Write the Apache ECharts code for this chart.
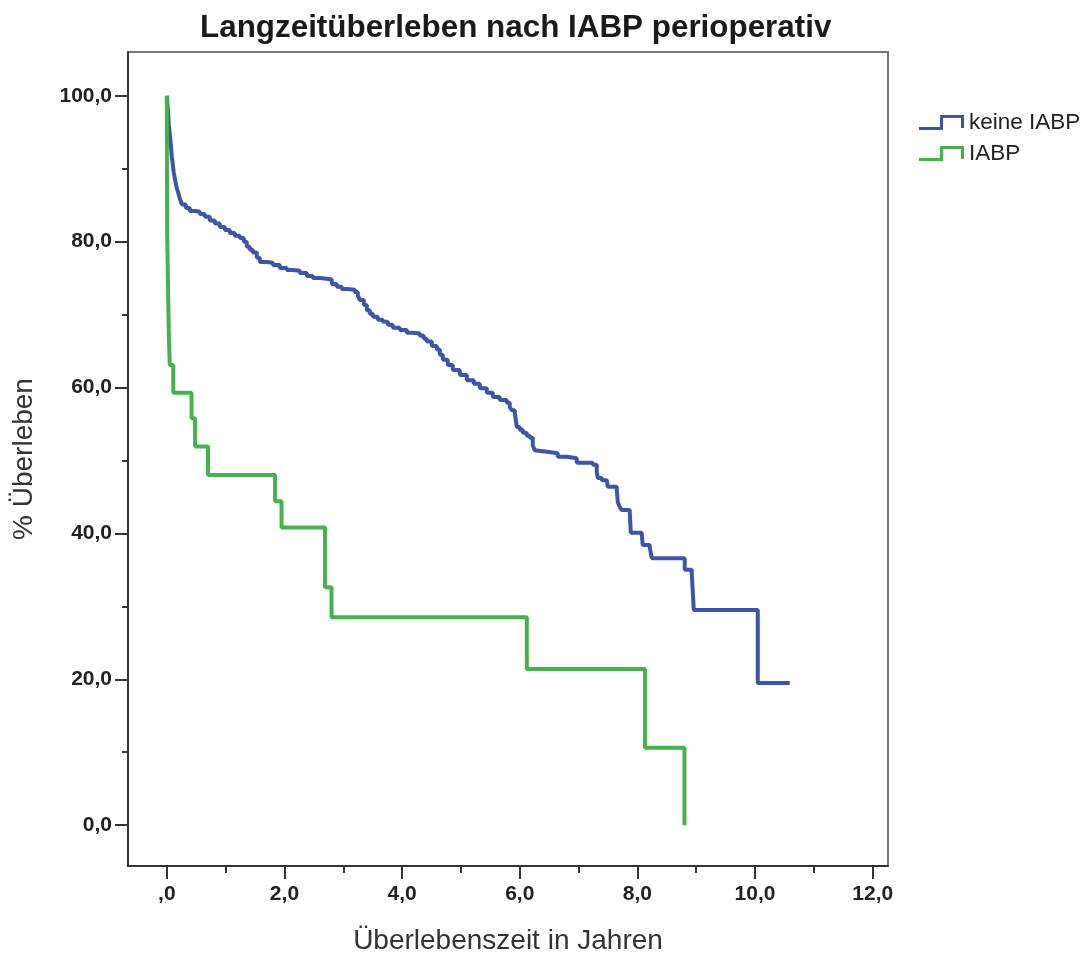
<!DOCTYPE html>
<html>
<head>
<meta charset="utf-8">
<script src="https://cdn.jsdelivr.net/npm/echarts@6/dist/echarts.min.js"></script>
<style>
html,body{margin:0;padding:0;background:#fff;}
#chart{width:1084px;height:953px;}
</style>
</head>
<body>
<div id="chart"></div>
<script>
// ---- data ----
const seriesNames = ['keine IABP', 'IABP'];

const blueTimes = [0, 0.017, 0.034, 0.051, 0.068, 0.085, 0.102, 0.119, 0.136, 0.153, 0.170, 0.187, 0.221, 0.255, 0.323, 0.391, 0.476, 0.561, 0.646, 0.731, 0.816, 0.901, 0.986, 1.071, 1.156, 1.241, 1.309, 1.360, 1.411, 1.462, 1.530, 1.581, 1.700, 1.802, 1.921, 2.040, 2.142, 2.261, 2.380, 2.482, 2.601, 2.720, 2.805, 2.890, 2.975, 3.060, 3.196, 3.247, 3.281, 3.349, 3.400, 3.451, 3.502, 3.587, 3.672, 3.757, 3.842, 3.961, 4.080, 4.182, 4.301, 4.369, 4.420, 4.505, 4.590, 4.641, 4.692, 4.777, 4.862, 4.981, 5.100, 5.219, 5.321, 5.440, 5.541, 5.660, 5.779, 5.830, 5.864, 5.915, 5.932, 5.949, 6.000, 6.051, 6.119, 6.170, 6.221, 6.255, 6.289, 6.459, 6.646, 6.799, 6.969, 7.241, 7.309, 7.326, 7.394, 7.479, 7.496, 7.649, 7.666, 7.700, 7.734, 7.870, 7.887, 8.074, 8.091, 8.210, 8.244, 8.805, 8.924, 8.941, 8.958, 10.046, 10.590];
const blueSurv  = [100, 98.1, 96.0, 94.7, 93.3, 91.6, 90.5, 89.4, 88.7, 87.9, 87.3, 86.9, 85.9, 85.1, 84.6, 84.2, 84.1, 83.8, 83.4, 82.9, 82.5, 82.0, 81.6, 81.2, 80.8, 80.5, 80.0, 79.3, 78.9, 78.5, 77.8, 77.2, 77.1, 76.8, 76.4, 76.1, 76.0, 75.7, 75.3, 75.0, 74.9, 74.8, 74.2, 73.8, 73.5, 73.4, 73.1, 72.6, 72.0, 71.3, 70.6, 70.1, 69.7, 69.3, 69.0, 68.6, 68.2, 67.9, 67.5, 67.4, 67.1, 66.7, 66.3, 65.7, 65.2, 64.5, 63.8, 63.1, 62.4, 61.7, 61.0, 60.5, 59.9, 59.3, 58.7, 58.3, 57.9, 57.3, 56.9, 56.5, 55.6, 54.6, 54.2, 53.8, 53.4, 53.1, 52.1, 51.4, 51.2, 51.0, 50.5, 50.3, 49.7, 49.4, 48.4, 47.6, 47.3, 47.2, 46.4, 46.0, 44.3, 43.6, 43.2, 42.9, 40.1, 39.8, 38.4, 38.1, 36.6, 35.0, 34.6, 32.0, 29.5, 19.5, 19.5];

const greenTimes = [0, 0.005, 0.02, 0.035, 0.05, 0.11, 0.42, 0.48, 0.70, 1.84, 1.95, 2.69, 2.80, 6.12, 8.13, 8.80];
const greenSurv  = [100, 81.6, 74.0, 67.0, 63.1, 59.3, 55.8, 51.9, 48.0, 44.4, 40.8, 32.6, 28.5, 21.4, 10.6, 0];

const xMajorTicks = [0, 2, 4, 6, 8, 10, 12];
const xMinorTicks = [1, 3, 5, 7, 9, 11];
const yMajorTicks = [0, 20, 40, 60, 80, 100];
const yMinorTicks = [10, 30, 50, 70, 90];

// ---- chart ----
const blueColor = '#3d55a8';
const greenColor = '#45b24c';
const FONT = '"Liberation Sans", Arial, sans-serif';

function pair(ts, ss) { return ts.map((t, i) => [t, ss[i]]); }
function fmtX(v) { return v === 0 ? ',0' : v.toFixed(1).replace('.', ','); }
function fmtY(v) { return v.toFixed(1).replace('.', ','); }

const XMIN = -0.66, XMAX = 12.26, YMIN = -5.6, YMAX = 106.0;
const stepIcon = 'path://M0,12 L21,12 L21,0 L45,0 L45,13 L42,13 L42,3 L24,3 L24,15 L0,15 Z';

const chart = echarts.init(document.getElementById('chart'), null, {renderer: 'canvas'});
chart.setOption({
  animation: false,
  backgroundColor: '#ffffff',
  title: {
    text: 'Langzeitüberleben nach IABP perioperativ',
    left: 195, top: 8,
    textStyle: {fontFamily: FONT, fontWeight: 'bold', fontSize: 31.4, color: '#1a1a1a'}
  },
  legend: {
    orient: 'vertical',
    left: 914, top: 106,
    itemWidth: 45, itemHeight: 15, itemGap: 8,
    textStyle: {fontFamily: FONT, fontSize: 22.5, color: '#222'},
    data: [
      {name: seriesNames[0], icon: stepIcon, itemStyle: {color: blueColor}},
      {name: seriesNames[1], icon: stepIcon, itemStyle: {color: greenColor}}
    ]
  },
  grid: {
    left: 128, right: 196, top: 52, bottom: 87,
    outerBoundsMode: 'none', containLabel: false,
    show: true, borderColor: '#777', borderWidth: 2, backgroundColor: '#fff'
  },
  xAxis: [
    {
      type: 'value', min: XMIN, max: XMAX, position: 'bottom',
      name: 'Überlebenszeit in Jahren', nameLocation: 'middle', nameGap: 61,
      nameTextStyle: {fontFamily: FONT, fontSize: 28, color: '#333'},
      axisLine: {show: true, onZero: false, lineStyle: {color: '#333', width: 2}},
      axisTick: {show: true, length: 13, customValues: xMajorTicks, lineStyle: {color: '#333', width: 2}},
      axisLabel: {customValues: xMajorTicks, formatter: fmtX, margin: 18,
        fontFamily: FONT, fontWeight: 'bold', fontSize: 21, color: '#222'},
      splitLine: {show: false}
    },
    {
      type: 'value', min: XMIN, max: XMAX, position: 'bottom', gridIndex: 0,
      axisLine: {show: false, onZero: false},
      axisTick: {show: true, length: 7, customValues: xMinorTicks, lineStyle: {color: '#333', width: 2}},
      axisLabel: {show: false},
      splitLine: {show: false}
    }
  ],
  yAxis: [
    {
      type: 'value', min: YMIN, max: YMAX, position: 'left',
      name: '% Überleben', nameLocation: 'middle', nameGap: 90, nameRotate: 90,
      nameTextStyle: {fontFamily: FONT, fontSize: 28, color: '#333'},
      axisLine: {show: true, onZero: false, lineStyle: {color: '#333', width: 2}},
      axisTick: {show: true, length: 13, customValues: yMajorTicks, lineStyle: {color: '#333', width: 2}},
      axisLabel: {customValues: yMajorTicks, formatter: fmtY, margin: 16,
        fontFamily: FONT, fontWeight: 'bold', fontSize: 21, color: '#222'},
      splitLine: {show: false}
    },
    {
      type: 'value', min: YMIN, max: YMAX, position: 'left', gridIndex: 0,
      axisLine: {show: false, onZero: false},
      axisTick: {show: true, length: 6, customValues: yMinorTicks, lineStyle: {color: '#333', width: 2}},
      axisLabel: {show: false},
      splitLine: {show: false}
    }
  ],
  series: [
    {
      name: seriesNames[0], type: 'line', step: 'end', showSymbol: false, symbol: 'none',
      data: pair(blueTimes, blueSurv),
      lineStyle: {color: blueColor, width: 4},
      itemStyle: {color: blueColor}
    },
    {
      name: seriesNames[1], type: 'line', step: 'end', showSymbol: false, symbol: 'none',
      data: pair(greenTimes, greenSurv),
      lineStyle: {color: greenColor, width: 4},
      itemStyle: {color: greenColor}
    }
  ]
});
</script>
</body>
</html>
